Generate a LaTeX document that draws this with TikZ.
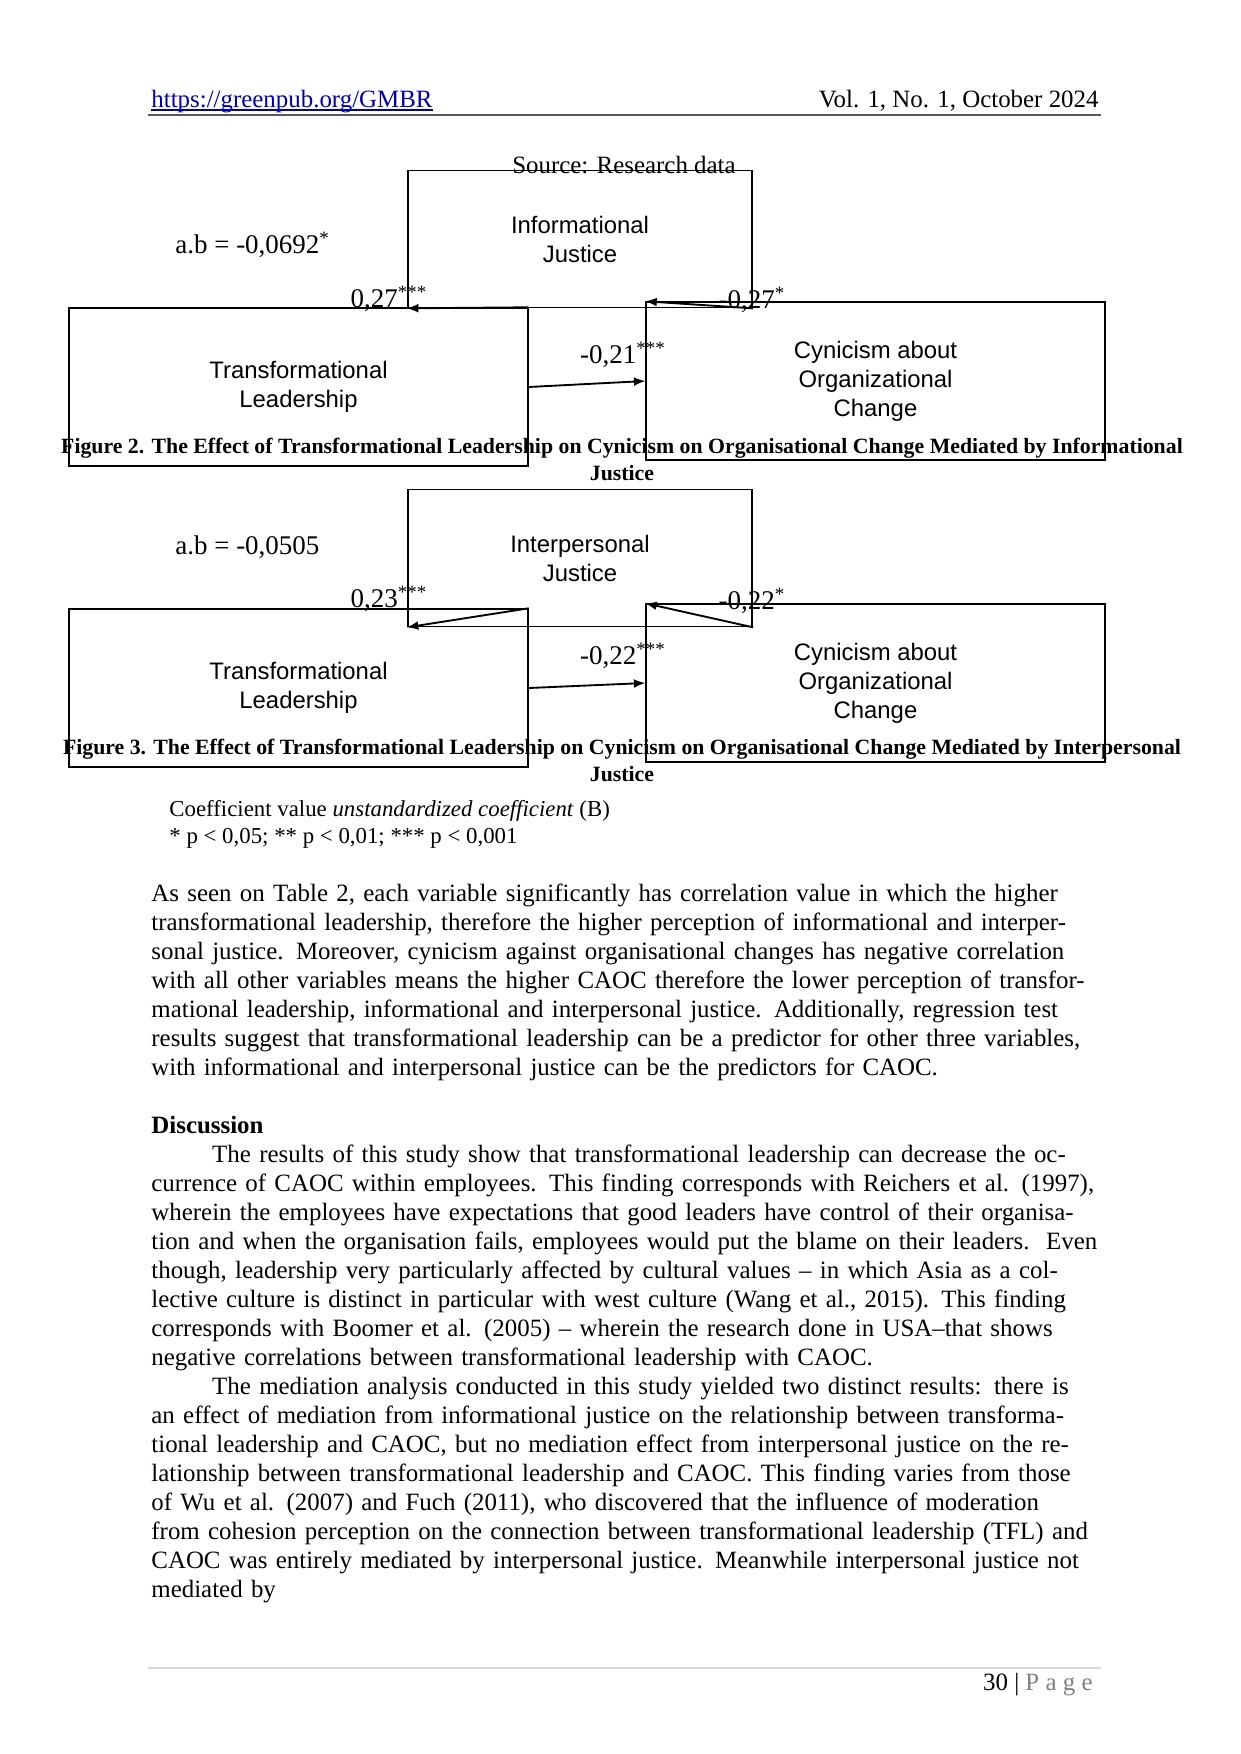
\documentclass[tikz,border=0pt]{standalone}
\usepackage{fontspec}
\setmainfont{Liberation Serif}
\setsansfont{Liberation Sans}
\begin{document}
\begin{tikzpicture}[x=0.16933mm,y=-0.16933mm,
  box/.style={draw,line width=0.8pt,align=center,font=\sffamily\fontsize{11.5}{14}\selectfont,inner sep=0pt},
  arr/.style={-latex,line width=0.9pt},
  lab/.style={font=\fontsize{13}{15}\selectfont},
  figcap/.style={font=\bfseries\fontsize{10.5}{13}\selectfont,align=center},
  body/.style={font=\fontsize{12}{13.97}\selectfont}]
\useasboundingbox[fill=white] (0,0) rectangle (1240,1754);
% header
\node[anchor=base west,inner sep=0pt,font=\fontsize{12}{14}\selectfont,text=blue!70!black] (url) at (151,107) {https://greenpub.org/GMBR};
\draw[blue!70!black,line width=0.6pt] ([yshift=-1.5pt]url.base west) -- ([yshift=-1.5pt]url.base east);
\node[anchor=base east,inner sep=0pt,font=\fontsize{12}{14}\selectfont] (vol) at (1099,107) {Vol. 1, No. 1, October 2024};
\coordinate (hl) at (148,115); \coordinate (hr) at (1101,115);
\draw[gray!70!black,line width=1pt] (hl) -- (hr);
\node[font=\fontsize{12}{14}\selectfont] (src) at (624,165) {Source: Research data};
% Figure 2
\node[box,minimum width=166,minimum height=66] (ij) at (580,239) {Informational\\Justice};
\node[box,minimum width=221,minimum height=76] (tl1) at (298.5,387) {Transformational\\Leadership};
\node[box,minimum width=221,minimum height=76] (c1) at (875.5,381) {Cynicism about\\Organizational\\Change};
\draw[arr] (tl1.north east) -- (ij.south west);
\draw[arr] (ij.south east) -- (c1.north west);
\draw[arr] (tl1.east) -- (c1.west);
\node[lab,anchor=west] (ab1) at (168,245) {a.b = -0,0692\textsuperscript{*}};
\node[lab] (l11) at (389,299) {0,27\textsuperscript{***}};
\node[lab] (l12) at (752,300) {-0,27\textsuperscript{*}};
\node[lab] (l13) at (623,355) {-0,21\textsuperscript{***}};
\node[figcap] (cap1) at (622,459) {Figure 2. The Effect of Transformational Leadership on Cynicism on Organisational Change Mediated by Informational\\Justice};
% Figure 3
\node[box,minimum width=166,minimum height=66] (pj) at (580,558) {Interpersonal\\Justice};
\node[box,minimum width=221,minimum height=76] (tl2) at (298.5,688) {Transformational\\Leadership};
\node[box,minimum width=221,minimum height=76] (c2) at (875.5,683) {Cynicism about\\Organizational\\Change};
\draw[arr] (tl2.north east) -- (pj.south west);
\draw[arr] (pj.south east) -- (c2.north west);
\draw[arr] (tl2.east) -- (c2.west);
\node[lab,anchor=west] (ab2) at (168,547) {a.b = -0,0505};
\node[lab] (l21) at (389,599) {0,23\textsuperscript{***}};
\node[lab] (l22) at (752,601) {-0,22\textsuperscript{*}};
\node[lab] (l23) at (623,656) {-0,22\textsuperscript{***}};
\node[figcap] (cap2) at (622,760) {Figure 3. The Effect of Transformational Leadership on Cynicism on Organisational Change Mediated by Interpersonal\\Justice};
\node[anchor=north west,align=left,inner sep=0pt,font=\fontsize{11}{13}\selectfont] (coef) at (169,800) {Coefficient value \textit{unstandardized coefficient} (B)\\* p < 0,05; ** p < 0,01; *** p < 0,001};
% body
\node[body,anchor=north west,inner sep=0pt,text width=160.5mm] (txt) at (151,884) {%
\setlength{\parindent}{10.3mm}\setlength{\parskip}{0pt}%
As seen on Table 2, each variable significantly has correlation value in which the higher transformational leadership, therefore the higher perception of informational and interpersonal justice. Moreover, cynicism against organisational changes has negative correlation with all other variables means the higher CAOC therefore the lower perception of transformational leadership, informational and interpersonal justice. Additionally, regression test results suggest that transformational leadership can be a predictor for other three variables, with informational and interpersonal justice can be the predictors for CAOC.\par
\vspace{13.97pt}
\noindent\textbf{Discussion}\par
The results of this study show that transformational leadership can decrease the occurrence of CAOC within employees. This finding corresponds with Reichers et al. (1997), wherein the employees have expectations that good leaders have control of their organisation and when the organisation fails, employees would put the blame on their leaders.\ \ Even though, leadership very particularly affected by cultural values -- in which Asia as a collective culture is distinct in particular with west culture (Wang et al., 2015). This finding corresponds with Boomer et al. (2005) -- wherein the research done in USA--that shows negative correlations between transformational leadership with CAOC.\par
The mediation analysis conducted in this study yielded two distinct results: there is an effect of mediation from informational justice on the relationship between transformational leadership and CAOC, but no mediation effect from interpersonal justice on the relationship between transformational leadership and CAOC. This finding varies from those of Wu et al. (2007) and Fuch (2011), who discovered that the influence of moderation from cohesion perception on the connection between transformational leadership (TFL) and CAOC was entirely mediated by interpersonal justice. Meanwhile interpersonal justice not mediated by\par};
% footer
\coordinate (fl) at (148,1668); \coordinate (fr) at (1101,1668);
\draw[gray!30,line width=0.6pt] (fl) -- (fr);
\node[anchor=base east,inner sep=0pt,font=\fontsize{12}{14}\selectfont] (pg) at (1093,1690) {30 | {\color{gray}P a g e}};
\end{tikzpicture}
\end{document}
